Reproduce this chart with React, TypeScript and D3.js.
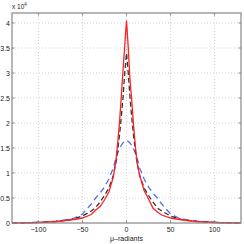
import * as d3 from "d3";
import { useEffect, useRef } from "react";

// phase offset in micro-radians
const xValues = [
  -130, -120, -110, -100, -90, -80, -70, -60, -50, -40, -35, -30, -25, -20, -15,
  -12, -10, -8, -6, -4, -2, 0, 2, 4, 6, 8, 10, 12, 15, 20, 25, 30, 35, 40, 50,
  60, 70, 80, 90, 100, 110, 120, 130,
];

// counts (x 10^4)
const redSolid = [
  0.002, 0.003, 0.005, 0.01, 0.02, 0.03, 0.05, 0.07, 0.1, 0.17, 0.26, 0.33,
  0.46, 0.62, 0.92, 1.25, 1.6, 2.0, 2.5, 3.05, 3.55, 4.05, 3.5, 2.85, 2.45,
  1.95, 1.55, 1.2, 0.95, 0.65, 0.48, 0.3, 0.22, 0.16, 0.1, 0.07, 0.05, 0.03,
  0.02, 0.01, 0.005, 0.003, 0.002,
];
const blackDashed = [
  0.002, 0.003, 0.006, 0.012, 0.02, 0.03, 0.05, 0.08, 0.14, 0.24, 0.31, 0.42,
  0.55, 0.7, 0.95, 1.2, 1.45, 1.75, 2.1, 2.5, 3.0, 3.4, 3.0, 2.5, 2.1, 1.75,
  1.45, 1.2, 0.95, 0.7, 0.55, 0.42, 0.3, 0.24, 0.14, 0.08, 0.05, 0.03, 0.02,
  0.012, 0.006, 0.003, 0.002,
];
const blueDashed = [
  0.002, 0.004, 0.008, 0.015, 0.025, 0.035, 0.06, 0.09, 0.18, 0.38, 0.5, 0.6,
  0.72, 0.88, 1.1, 1.3, 1.4, 1.48, 1.55, 1.6, 1.64, 1.65, 1.63, 1.6, 1.55,
  1.48, 1.4, 1.3, 1.1, 0.88, 0.72, 0.6, 0.5, 0.38, 0.18, 0.09, 0.06, 0.035,
  0.025, 0.015, 0.008, 0.004, 0.002,
];

const xTicks = [-100, -50, 0, 50, 100];
const yTicks = [0, 0.5, 1, 1.5, 2, 2.5, 3, 3.5, 4];

const series = [
  { values: blueDashed, color: "#4f6ff0", dash: "6,4", width: 1.3 },
  { values: blackDashed, color: "#333333", dash: "5,3", width: 1.3 },
  { values: redSolid, color: "#ff2020", dash: null, width: 1.3 },
];

const W = 244;
const H = 244;

export default function App() {
  const svgRef = useRef<SVGSVGElement | null>(null);

  useEffect(() => {
    const svg = d3.select(svgRef.current);
    svg.selectAll("*").remove();

    const margin = { top: 13, right: 3, bottom: 21, left: 12 };
    const width = W - margin.left - margin.right;
    const height = H - margin.top - margin.bottom;

    const x = d3.scaleLinear().domain([-130, 130]).range([0, width]);
    const y = d3.scaleLinear().domain([0, 4.2]).range([height, 0]);

    svg.append("rect").attr("width", W).attr("height", H).attr("fill", "#fff");

    const g = svg
      .append("g")
      .attr("transform", `translate(${margin.left},${margin.top})`);

    // grid
    g.selectAll(".gx")
      .data(xTicks)
      .join("line")
      .attr("x1", (d) => x(d))
      .attr("x2", (d) => x(d))
      .attr("y1", 0)
      .attr("y2", height)
      .attr("stroke", "#c8c8c8")
      .attr("stroke-width", 0.8)
      .attr("stroke-dasharray", "1,2");
    g.selectAll(".gy")
      .data(yTicks.slice(1))
      .join("line")
      .attr("x1", 0)
      .attr("x2", width)
      .attr("y1", (d) => y(d))
      .attr("y2", (d) => y(d))
      .attr("stroke", "#c8c8c8")
      .attr("stroke-width", 0.8)
      .attr("stroke-dasharray", "1,2");

    const line = d3
      .line<number>()
      .x((_, i) => x(xValues[i]))
      .y((d) => y(d));

    const plot = g.append("g");
    series.forEach((s) => {
      plot
        .append("path")
        .datum(s.values)
        .attr("d", line)
        .attr("fill", "none")
        .attr("stroke", s.color)
        .attr("stroke-width", s.width)
        .attr("stroke-dasharray", s.dash);
    });

    // box
    g.append("rect")
      .attr("width", width)
      .attr("height", height)
      .attr("fill", "none")
      .attr("stroke", "#888")
      .attr("stroke-width", 1.2);

    // ticks inward
    const tickLen = 2.5;
    xTicks.forEach((t) => {
      [0, height].forEach((yy, k) => {
        g.append("line")
          .attr("x1", x(t))
          .attr("x2", x(t))
          .attr("y1", yy)
          .attr("y2", k === 0 ? yy + tickLen : yy - tickLen)
          .attr("stroke", "#888");
      });
    });
    yTicks.forEach((t) => {
      [0, width].forEach((xx, k) => {
        g.append("line")
          .attr("x1", xx)
          .attr("x2", k === 0 ? xx + tickLen : xx - tickLen)
          .attr("y1", y(t))
          .attr("y2", y(t))
          .attr("stroke", "#888");
      });
    });

    const font = "Liberation Sans, Arial, sans-serif";
    g.selectAll(".xl")
      .data(xTicks)
      .join("text")
      .attr("x", (d) => x(d))
      .attr("y", height + 9)
      .attr("text-anchor", "middle")
      .attr("font-family", font)
      .attr("font-size", 7)
      .attr("fill", "#222")
      .text((d) => (d < 0 ? `\u2212${Math.abs(d)}` : `${d}`));
    g.selectAll(".yl")
      .data(yTicks)
      .join("text")
      .attr("x", -2)
      .attr("y", (d) => y(d) + 2.5)
      .attr("text-anchor", "end")
      .attr("font-family", font)
      .attr("font-size", 7)
      .attr("fill", "#222")
      .text((d) => `${d}`);

    g.append("text")
      .attr("x", width / 2)
      .attr("y", height + 18)
      .attr("text-anchor", "middle")
      .attr("font-family", font)
      .attr("font-size", 7)
      .attr("fill", "#222")
      .text("\u03bc\u2013radiants");

    const exp = g
      .append("text")
      .attr("x", 0)
      .attr("y", -4)
      .attr("font-family", font)
      .attr("font-size", 6.5)
      .attr("fill", "#222");
    exp.append("tspan").text("x 10");
    exp.append("tspan").attr("dy", -3).attr("font-size", 4.5).text("4");
  }, []);

  return (
    <svg
      ref={svgRef}
      width={W}
      height={H}
      style={{ position: "absolute", left: 0, top: 0 }}
    />
  );
}
